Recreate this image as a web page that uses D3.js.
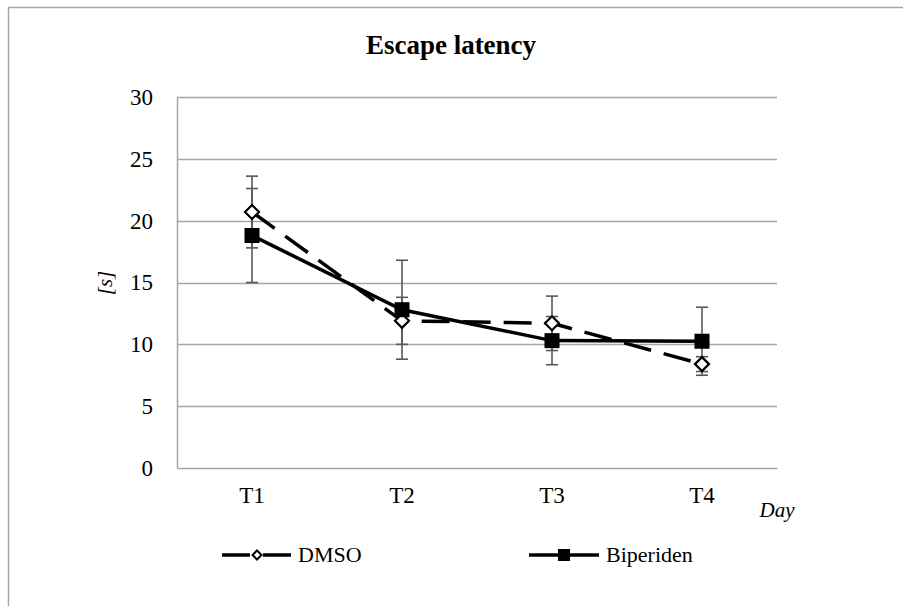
<!DOCTYPE html>
<html>
<head>
<meta charset="utf-8">
<script src="https://cdn.jsdelivr.net/npm/d3@7"></script>
<style>
  html, body { margin: 0; padding: 0; background: #fff; }
  svg { display: block; }
</style>
</head>
<body>
<svg id="chart" width="903" height="606"></svg>
<script>
const categories = ["T1", "T2", "T3", "T4"];
const dmso = [20.7, 11.9, 11.7, 8.4];
const dmsoErr = [2.9, 1.9, 2.2, 0.6];
const biperiden = [18.8, 12.8, 10.3, 10.25];
const biperidenErr = [3.8, 4.0, 1.95, 2.75];
const yTicks = [0, 5, 10, 15, 20, 25, 30];
const seriesNames = ["DMSO", "Biperiden"];

const FONT = "'Liberation Serif', 'Times New Roman', serif";
const svg = d3.select("#chart").style("font-family", FONT);
const plot = { left: 177, right: 777, top: 97, bottom: 468 };

// outer chart frame
svg.append("rect").attr("x", 8.5).attr("y", 7.5).attr("width", 920).attr("height", 620)
  .attr("fill", "#fff").attr("stroke", "#a6a6a6").attr("stroke-width", 1.5);

const x = d3.scaleBand().domain(categories).range([plot.left, plot.right]).paddingInner(0).paddingOuter(0);
const cx = c => x(c) + x.bandwidth() / 2;
const y = d3.scaleLinear().domain([0, 30]).range([plot.bottom, plot.top]);

// gridlines
svg.append("g").selectAll("line").data(yTicks.filter(t => t > 0)).join("line")
  .attr("x1", plot.left).attr("x2", plot.right)
  .attr("y1", d => Math.round(y(d)) + 0.5).attr("y2", d => Math.round(y(d)) + 0.5)
  .attr("stroke", "#a6a6a6").attr("stroke-width", 1.3);

// y axis
const yAxis = d3.axisLeft(y).tickValues(yTicks).tickSize(0).tickPadding(24).tickFormat(d3.format("d"));
const gy = svg.append("g").attr("transform", `translate(${plot.left},0)`).call(yAxis)
  .attr("font-family", FONT).attr("font-size", 23);
gy.select(".domain").attr("stroke", "#a6a6a6").attr("stroke-width", 1.5);
gy.selectAll("text").attr("fill", "#000");

// x axis
const xAxis = d3.axisBottom(x).tickSize(0).tickPadding(19);
const gx = svg.append("g").attr("transform", `translate(0,${plot.bottom})`).call(xAxis)
  .attr("font-family", FONT).attr("font-size", 23);
gx.select(".domain").attr("stroke", "#a6a6a6").attr("stroke-width", 1.5);
gx.selectAll("text").attr("fill", "#000");

// title
svg.append("text").attr("x", 451).attr("y", 54).attr("text-anchor", "middle")
  .attr("font-family", FONT).attr("font-size", 27).attr("font-weight", "bold").text("Escape latency");

// axis titles
svg.append("text").attr("transform", "translate(112,283) rotate(-90)").attr("text-anchor", "middle")
  .attr("font-family", FONT).attr("font-size", 21).attr("font-style", "italic").text("[s]");
svg.append("text").attr("x", 777).attr("y", 517).attr("text-anchor", "middle")
  .attr("font-family", FONT).attr("font-size", 21).attr("font-style", "italic").text("Day");

// error bars
function errorBars(vals, errs) {
  const g = svg.append("g");
  categories.forEach((c, i) => {
    const X = cx(c);
    const y1 = y(vals[i] + errs[i]), y2 = y(vals[i] - errs[i]);
    g.append("line").attr("x1", X).attr("x2", X).attr("y1", y1).attr("y2", y2)
      .attr("stroke", "#595959").attr("stroke-width", 1.6);
    [y1, y2].forEach(yy => g.append("line").attr("x1", X - 6).attr("x2", X + 6).attr("y1", yy).attr("y2", yy)
      .attr("stroke", "#595959").attr("stroke-width", 1.6));
  });
}
errorBars(dmso, dmsoErr);
errorBars(biperiden, biperidenErr);

const line = d3.line().x((d, i) => cx(categories[i])).y(d => y(d));

// DMSO dashed line
svg.append("path").datum(dmso).attr("d", line).attr("fill", "none")
  .attr("stroke", "#000").attr("stroke-width", 3.5).attr("stroke-dasharray", "28,13");
// Biperiden solid line
svg.append("path").datum(biperiden).attr("d", line).attr("fill", "none")
  .attr("stroke", "#000").attr("stroke-width", 3.5);

// markers
const diamond = s => `M0,${-s} L${s},0 L0,${s} L${-s},0 Z`;
svg.append("g").selectAll("path").data(dmso).join("path")
  .attr("transform", (d, i) => `translate(${cx(categories[i])},${y(d)})`)
  .attr("d", diamond(7)).attr("fill", "#fff").attr("stroke", "#000").attr("stroke-width", 2.2);
svg.append("g").selectAll("rect").data(biperiden).join("rect")
  .attr("x", (d, i) => cx(categories[i]) - 7.5).attr("y", d => y(d) - 7.5)
  .attr("width", 15).attr("height", 15).attr("fill", "#000");

// legend
const ly = 555;
svg.append("line").attr("x1", 222).attr("x2", 292).attr("y1", ly).attr("y2", ly)
  .attr("stroke", "#000").attr("stroke-width", 3.5).attr("stroke-dasharray", "28,13");
svg.append("path").attr("transform", `translate(257,${ly})`).attr("d", diamond(4.5))
  .attr("fill", "#fff").attr("stroke", "#000").attr("stroke-width", 2);
svg.append("text").attr("x", 298).attr("y", ly + 7).attr("font-family", FONT).attr("font-size", 22).text(seriesNames[0]);

svg.append("line").attr("x1", 529).attr("x2", 599).attr("y1", ly).attr("y2", ly)
  .attr("stroke", "#000").attr("stroke-width", 3.5);
svg.append("rect").attr("x", 564 - 6).attr("y", ly - 6).attr("width", 12).attr("height", 12).attr("fill", "#000");
svg.append("text").attr("x", 606).attr("y", ly + 7).attr("font-family", FONT).attr("font-size", 22).text(seriesNames[1]);
</script>
</body>
</html>
